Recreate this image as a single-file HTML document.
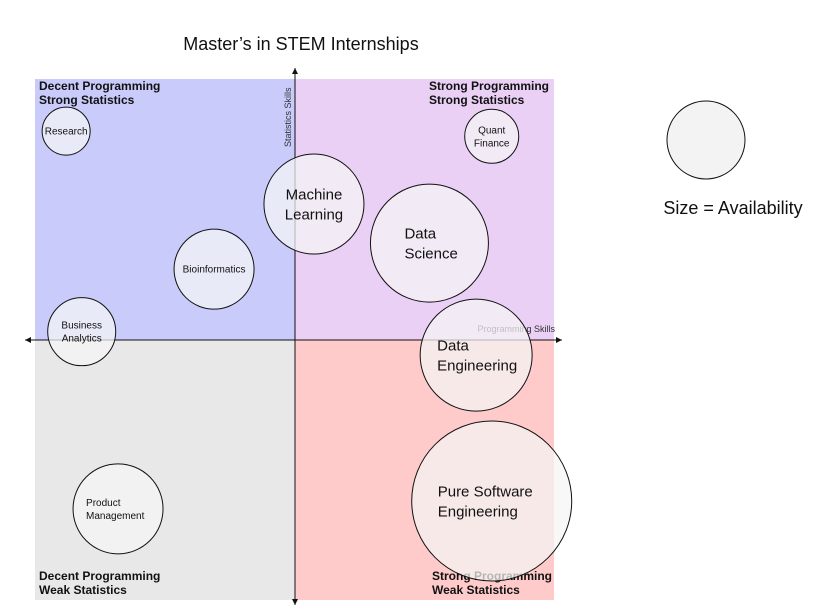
<!DOCTYPE html>
<html><head><meta charset="utf-8"><style>
body{margin:0;background:#fff;font-family:"Liberation Sans",sans-serif;}
svg text{font-family:"Liberation Sans",sans-serif;}
</style></head><body>
<svg id="chart" width="831" height="605" viewBox="0 0 831 605">
<text x="301" y="50" font-size="18" text-anchor="middle" fill="#111">Master’s in STEM Internships</text>
<rect x="35" y="79" width="260" height="261" fill="#c9cbfb"/>
<rect x="295" y="79" width="259" height="261" fill="#ead0f5"/>
<rect x="35" y="340" width="260" height="260" fill="#e8e8e8"/>
<rect x="295" y="340" width="259" height="260" fill="#ffcaca"/>
<g font-size="12" font-weight="bold" fill="#111">
<text x="39" y="90"><tspan x="39">Decent Programming</tspan><tspan x="39" dy="14">Strong Statistics</tspan></text>
<text x="429" y="90"><tspan x="429">Strong Programming</tspan><tspan x="429" dy="14">Strong Statistics</tspan></text>
<text x="39" y="580"><tspan x="39">Decent Programming</tspan><tspan x="39" dy="14">Weak Statistics</tspan></text>
<text x="432" y="580"><tspan x="432">Strong Programming</tspan><tspan x="432" dy="14">Weak Statistics</tspan></text>
</g>
<line x1="25" y1="340" x2="562" y2="340" stroke="#111" stroke-width="1"/>
<path d="M25 340 l6 -3 v6z M562 340 l-6 -3 v6z" fill="#111"/>
<line x1="295" y1="68" x2="295" y2="605" stroke="#111" stroke-width="1"/>
<path d="M295 68 l-3 6 h6z M295 605 l-3 -6 h6z" fill="#111"/>
<text x="555" y="332" font-size="9" text-anchor="end" fill="#333">Programming Skills</text>
<text transform="translate(291,147) rotate(-90)" font-size="9" fill="#333">Statistics Skills</text>
<g id="bubbles"></g>
<circle cx="706" cy="140" r="39" fill="#f3f3f3" stroke="#111"/>
<text x="733" y="214" font-size="18" text-anchor="middle" fill="#111">Size = Availability</text>
</svg>
<script>
const names=[["Research"],["Quant","Finance"],["Machine","Learning"],["Data","Science"],["Bioinformatics"],["Business","Analytics"],["Data","Engineering"],["Pure Software","Engineering"],["Product","Management"]];
const progX=[-88,76,7.5,52,-31,-82,70,76,-68];
const statY=[80,78,52,37,27,3,-6,-62,-65];
const availability=[24,27,50,59,40,34,56,80,45];
const labelLeft=[null,null,null,25,null,null,39,54,32];
const xs=v=>294.5+v/100*259.5;
const ys=v=>339.5-v/100*260.5;
const rs=v=>v;
const g=document.getElementById('bubbles');
const NS='http://www.w3.org/2000/svg';
names.forEach((n,i)=>{
  const cx=xs(progX[i]),cy=ys(statY[i]),r=rs(availability[i]);
  const c=document.createElementNS(NS,'circle');
  c.setAttribute('cx',cx);c.setAttribute('cy',cy);c.setAttribute('r',r);
  c.setAttribute('fill','rgba(245,245,245,0.72)');c.setAttribute('stroke','#111');
  
  
  g.appendChild(c);
  const big=r>=50;const fs=big?15:10;const lh=big?20:13;
  const t=document.createElementNS(NS,'text');
  t.setAttribute('font-size',fs);t.setAttribute('fill','#111');
  
  
  let lx=cx;
  if(labelLeft[i]!==null){lx=cx-labelLeft[i];}else{t.setAttribute('text-anchor','middle');}
  const y0=cy-(n.length-1)*lh/2+fs*0.35;
  n.forEach((s,j)=>{const ts=document.createElementNS(NS,'tspan');ts.setAttribute('x',lx);ts.setAttribute('y',y0+j*lh);ts.textContent=s;t.appendChild(ts);});
  g.appendChild(t);
});
</script>
</body></html>
